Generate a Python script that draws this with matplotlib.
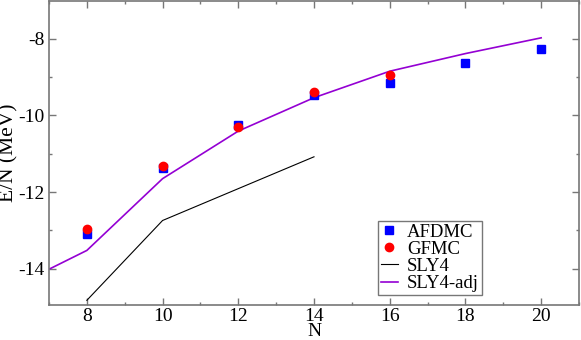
import matplotlib
matplotlib.use("Agg")
import matplotlib.pyplot as plt
from matplotlib.ticker import MultipleLocator

plt.rcParams["font.family"] = ["Liberation Serif", "DejaVu Serif"]
plt.rcParams["axes.unicode_minus"] = False

# AFDMC results
n_afdmc = [8, 10, 12, 14, 16, 18, 20]
e_afdmc = [-13.08, -11.38, -10.25, -9.47, -9.15, -8.64, -8.26]

# GFMC results
n_gfmc = [8, 10, 12, 14, 16]
e_gfmc = [-12.96, -11.33, -10.30, -9.39, -8.94]

# SLY4 functional
n_sly4 = [8, 10, 12, 14]
e_sly4 = [-14.82, -12.74, -11.91, -11.08]

# SLY4 adjusted
n_sly4adj = [6, 8, 10, 12, 14, 16, 18, 20]
e_sly4adj = [-14.50, -13.52, -11.65, -10.41, -9.54, -8.85, -8.39, -7.98]

fig = plt.figure(figsize=(5.81, 3.40), dpi=100)
ax = fig.add_axes([49 / 581, 1 - 305.3 / 340, 530 / 581, 304.3 / 340])

ax.plot(n_afdmc, e_afdmc, "s", color="#0000ff", ms=5.2, label="AFDMC", zorder=4)
ax.plot(n_gfmc, e_gfmc, "o", color="#ff0000", ms=6, label="GFMC", zorder=5)
ax.plot(n_sly4, e_sly4, color="black", lw=0.8, label="SLY4")
ax.plot(n_sly4adj, e_sly4adj, color="#9400d3", lw=1.2, label="SLY4-adj")

ax.set_xlim(7, 21)
ax.set_ylim(-14.95, -7.02)
ax.xaxis.set_major_locator(MultipleLocator(2))
ax.xaxis.set_minor_locator(MultipleLocator(1))
ax.yaxis.set_major_locator(MultipleLocator(2))
ax.yaxis.set_minor_locator(MultipleLocator(1))
ax.tick_params(which="both", direction="in", top=True, right=True,
               color="#777777", labelsize=14, pad=3)
ax.tick_params(axis="x", pad=2)
ax.tick_params(which="major", length=5, width=1)
ax.tick_params(which="minor", length=2.5, width=1)
for s in ax.spines.values():
    s.set_color("#777777")
    s.set_linewidth(1.2)

ax.set_xlabel("N", fontsize=14, labelpad=-1.5)
ax.set_ylabel("E/N (MeV)", fontsize=15.5)
ax.yaxis.set_label_coords(-31 / 530, 0.5)

leg = ax.legend(loc="lower right", bbox_to_anchor=(0.817, 0.034), fontsize=13.5,
                frameon=True, fancybox=False, edgecolor="#555555",
                handlelength=0.9, handletextpad=0.5, borderpad=0.15,
                labelspacing=0.0, borderaxespad=0)
leg.get_frame().set_linewidth(1.0)

fig.savefig("out.png", dpi=100)
